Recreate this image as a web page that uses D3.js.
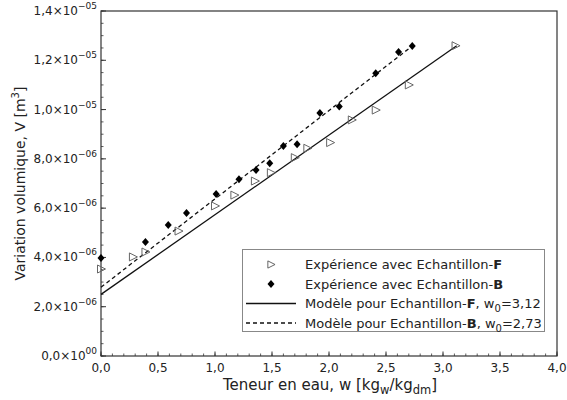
<!DOCTYPE html>
<html><head><meta charset="utf-8">
<script src="https://cdn.jsdelivr.net/npm/d3@7"></script>
<style>
body{margin:0;background:#fff;}
text{font-family:"DejaVu Sans",sans-serif;fill:#222;}
</style></head>
<body><svg id="c" width="567" height="400"></svg>
<script>
// Sample F (triangles)
const wF = [0.00,0.28,0.39,0.68,1.00,1.17,1.35,1.49,1.70,1.81,2.01,2.20,2.41,2.70,3.11];
const vF = [3.53e-6,4.02e-6,4.22e-6,5.07e-6,6.09e-6,6.53e-6,7.10e-6,7.44e-6,8.05e-6,8.43e-6,8.66e-6,9.58e-6,9.98e-6,1.100e-5,1.259e-5];
// Sample B (diamonds)
const wB = [0.00,0.39,0.59,0.75,1.01,1.21,1.36,1.48,1.60,1.72,1.92,2.09,2.41,2.61,2.73];
const vB = [3.98e-6,4.63e-6,5.32e-6,5.80e-6,6.57e-6,7.17e-6,7.55e-6,7.82e-6,8.52e-6,8.59e-6,9.86e-6,1.012e-5,1.147e-5,1.234e-5,1.258e-5];
// Model lines (endpoints)
const modelFw = [0, 3.12], modelFv = [2.50e-6, 1.259e-5];
const modelBw = [0, 2.73], modelBv = [2.79e-6, 1.258e-5];
const xTicks = ["0,0","0,5","1,0","1,5","2,0","2,5","3,0","3,5","4,0"];
const yTickMant = ["0,0","2,0","4,0","6,0","8,0","1,0","1,2","1,4"];
const yTickExp = ["00","−06","−06","−06","−06","−05","−05","−05"];

const svg = d3.select("#c");
const X0=101, X1=557, Y0=11, Y1=356;
const x = d3.scaleLinear().domain([0,4]).range([X0,X1]);
const y = d3.scaleLinear().domain([0,1.4e-5]).range([Y1,Y0]);
const axisCol = "#333";

// frame
svg.append("rect").attr("x",X0).attr("y",Y0).attr("width",X1-X0).attr("height",Y1-Y0)
  .attr("fill","none").attr("stroke",axisCol).attr("stroke-width",1.2);

// x axis ticks (inward)
const xMaj = d3.range(0,4.01,0.5), xMin = d3.range(0,4.001,0.1);
const gx = svg.append("g");
gx.selectAll(".mn").data(xMin).enter().append("line")
  .attr("x1",d=>x(d)).attr("x2",d=>x(d)).attr("y1",Y1).attr("y2",Y1-2.5).attr("stroke",axisCol).attr("stroke-width",0.8);
gx.selectAll(".mj").data(xMaj).enter().append("line")
  .attr("x1",d=>x(d)).attr("x2",d=>x(d)).attr("y1",Y1).attr("y2",Y1-4.5).attr("stroke",axisCol).attr("stroke-width",1);
gx.selectAll(".lb").data(xMaj).enter().append("text")
  .attr("x",d=>x(d)).attr("y",Y1+16).attr("text-anchor","middle").attr("font-size",12)
  .text((d,i)=>xTicks[i]);

// y axis ticks
const yMaj = d3.range(0,8).map(i=>i*2e-6), yMin = d3.range(0,29).map(i=>i*0.5e-6);
const gy = svg.append("g");
gy.selectAll(".mn").data(yMin).enter().append("line")
  .attr("x1",X0).attr("x2",X0+2.5).attr("y1",d=>y(d)).attr("y2",d=>y(d)).attr("stroke",axisCol).attr("stroke-width",0.8);
gy.selectAll(".mj").data(yMaj).enter().append("line")
  .attr("x1",X0).attr("x2",X0+5).attr("y1",d=>y(d)).attr("y2",d=>y(d)).attr("stroke",axisCol).attr("stroke-width",1);
const yl = gy.selectAll(".lb").data(yMaj).enter().append("text")
  .attr("x",X0-4).attr("y",d=>y(d)+4).attr("text-anchor","end").attr("font-size",12);
yl.append("tspan").text((d,i)=>yTickMant[i]+"×10");
yl.append("tspan").attr("dy",-6).attr("font-size",9).text((d,i)=>yTickExp[i]);

// axis titles
const xt = svg.append("text").attr("x",(X0+X1)/2+1).attr("y",390).attr("text-anchor","middle").attr("font-size",15);
xt.append("tspan").text("Teneur en eau, w [kg");
xt.append("tspan").attr("dy",4).attr("font-size",11.5).text("w");
xt.append("tspan").attr("dy",-4).text("/kg");
xt.append("tspan").attr("dy",4).attr("font-size",11.5).text("dm");
xt.append("tspan").attr("dy",-4).text("]");

const yt = svg.append("text").attr("transform",`translate(25,${(Y0+Y1)/2}) rotate(-90)`)
  .attr("text-anchor","middle").attr("font-size",14);
yt.append("tspan").text("Variation volumique, V [m");
yt.append("tspan").attr("dy",-6).attr("font-size",10).text("3");
yt.append("tspan").attr("dy",6).text("]");

// model lines
const line = d3.line().x(d=>x(d[0])).y(d=>y(d[1]));
svg.append("path").datum(modelFw.map((w,i)=>[w,modelFv[i]])).attr("d",line)
  .attr("fill","none").attr("stroke","#111").attr("stroke-width",1.3);
svg.append("path").datum(modelBw.map((w,i)=>[w,modelBv[i]])).attr("d",line)
  .attr("fill","none").attr("stroke","#111").attr("stroke-width",1.3).attr("stroke-dasharray","4,3");

// markers
const triPath = "M-3.5,-4 L4.5,0 L-3.5,4 Z";
const diaPath = "M0,-4 L3.5,0 L0,4 L-3.5,0 Z";
svg.append("g").selectAll("path").data(wF.map((w,i)=>[w,vF[i]])).enter().append("path")
  .attr("d",triPath).attr("transform",d=>`translate(${x(d[0])},${y(d[1])})`)
  .attr("fill","#fff").attr("fill-opacity",0).attr("stroke","#666").attr("stroke-width",1);
svg.append("g").selectAll("path").data(wB.map((w,i)=>[w,vB[i]])).enter().append("path")
  .attr("d",diaPath).attr("transform",d=>`translate(${x(d[0])},${y(d[1])})`)
  .attr("fill","#000");

// legend
const lg = svg.append("g");
lg.append("rect").attr("x",242.5).attr("y",249.5).attr("width",302).attr("height",82)
  .attr("fill","#fff").attr("stroke","#888").attr("stroke-width",1);
const rows = [264.5, 284, 303.5, 323];
lg.append("path").attr("d",triPath).attr("transform",`translate(271,${rows[0]}) scale(0.9)`)
  .attr("fill","none").attr("stroke","#555").attr("stroke-width",1);
lg.append("path").attr("d",diaPath).attr("transform",`translate(271,${rows[1]})`).attr("fill","#000");
lg.append("line").attr("x1",246).attr("x2",296).attr("y1",rows[2]).attr("y2",rows[2]).attr("stroke","#111").attr("stroke-width",1.3);
lg.append("line").attr("x1",246).attr("x2",296).attr("y1",rows[3]).attr("y2",rows[3]).attr("stroke","#111").attr("stroke-width",1.3).attr("stroke-dasharray","4,3");
function legText(yy, parts){
  const t = lg.append("text").attr("x",305).attr("y",yy+4.5).attr("font-size",13);
  parts.forEach(p=>{
    const s = t.append("tspan").text(p.t);
    if(p.b) s.attr("font-weight","bold");
    if(p.sub) s.attr("dy",4).attr("font-size",10);
    if(p.up) s.attr("dy",-4);
  });
}
legText(rows[0],[{t:"Expérience avec Echantillon-"},{t:"F",b:1}]);
legText(rows[1],[{t:"Expérience avec Echantillon-"},{t:"B",b:1}]);
legText(rows[2],[{t:"Modèle pour Echantillon-"},{t:"F",b:1},{t:", w"},{t:"0",sub:1},{t:"=3,12",up:1}]);
legText(rows[3],[{t:"Modèle pour Echantillon-"},{t:"B",b:1},{t:", w"},{t:"0",sub:1},{t:"=2,73",up:1}]);
</script></body></html>
